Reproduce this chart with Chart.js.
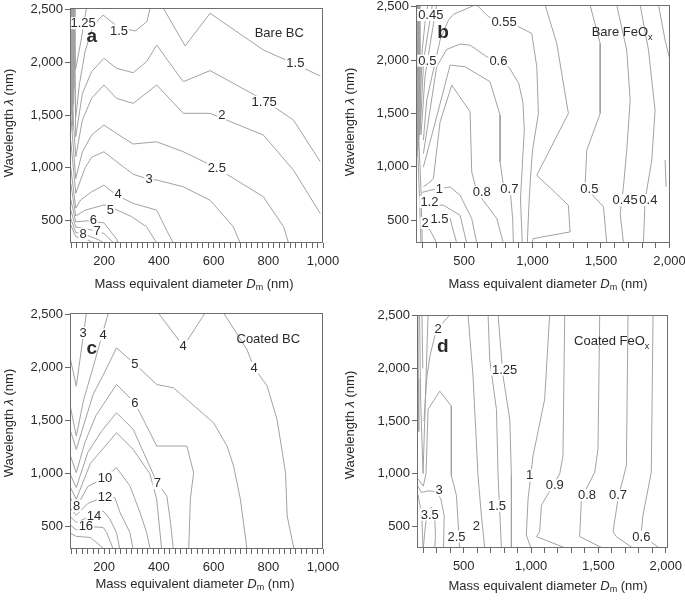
<!DOCTYPE html>
<html>
<head>
<meta charset="utf-8">
<script src="https://cdn.jsdelivr.net/npm/chart.js@4.4.1/dist/chart.umd.min.js"></script>
<style>
  body { margin:0; background:#fff; width:685px; height:600px; position:relative; overflow:hidden;
         font-family:"Liberation Sans", Arial, sans-serif; color:#2a2a2a; }
  .panel { position:absolute; }
  .xt, .yt { position:absolute; font-size:13px; white-space:nowrap; }
  .xt { transform:translate(-50%,-50%); }
  .yt { transform:translate(-50%,-50%) rotate(-90deg); }
  sub { font-size:9px; vertical-align:-2px; line-height:0; }
</style>
</head>
<body>
<div class="panel" style="left:0;top:0"><canvas id="cA" width="340" height="300"></canvas></div>
<div class="panel" style="left:340px;top:0"><canvas id="cB" width="345" height="300"></canvas></div>
<div class="panel" style="left:0;top:300px"><canvas id="cC" width="340" height="300"></canvas></div>
<div class="panel" style="left:340px;top:300px"><canvas id="cD" width="345" height="300"></canvas></div>

<div class="xt" style="left:194px;top:283px">Mass equivalent diameter <i>D</i><sub>m</sub> (nm)</div>
<div class="xt" style="left:548px;top:283px">Mass equivalent diameter <i>D</i><sub>m</sub> (nm)</div>
<div class="xt" style="left:195px;top:583px">Mass equivalent diameter <i>D</i><sub>m</sub> (nm)</div>
<div class="xt" style="left:548px;top:585px">Mass equivalent diameter <i>D</i><sub>m</sub> (nm)</div>
<div class="yt" style="left:8px;top:123px">Wavelength <i>λ</i> (nm)</div>
<div class="yt" style="left:349px;top:122px">Wavelength <i>λ</i> (nm)</div>
<div class="yt" style="left:8px;top:423px">Wavelength <i>λ</i> (nm)</div>
<div class="yt" style="left:349px;top:425px">Wavelength <i>λ</i> (nm)</div>

<script>
// tick values
const yTicks = [500, 1000, 1500, 2000, 2500];
const xTicksBC = [200, 400, 600, 800, 1000];
const xTicksFe = [500, 1000, 1500, 2000];

// contour lines, [Dm, wavelength]
const bareBCLines = [
  [[80,2512],[81,1500]], [[82,2512],[83,1350]], [[84,2512],[85,1400]], [[86,2512],[87,1600]],
  [[88,2512],[89,1750]], [[90,2512],[91,1850]], [[92,2512],[93,2000]],
  [[86,2512],[95,1926],[115,2200],[135,2512]],
  [[88,2512],[96,1484],[110,1800],[130,2100],[160,2350],[196,2446],[251,2330],[314,2295],[356,2383],[368,2512]],
  [[416,2512],[496,2153],[587,2462],[782,2115],[899,1980],[990,1869]],
  [[90,2512],[96,1295],[120,1700],[154,1910],[199,2036],[245,1942],[306,1900],[355,2005],[392,2162],[489,1815],[587,1920],[785,1640],[892,1453],[990,1058]],
  [[78,1800],[96,1106],[120,1450],[154,1658],[199,1784],[245,1658],[306,1610],[392,1784],[489,1516],[587,1516],[782,1311],[892,979],[990,569]],
  [[78,1500],[96,900],[120,1150],[154,1311],[199,1405],[245,1326],[306,1226],[392,1247],[489,1153],[611,1000],[782,727],[856,443],[874,290]],
  [[78,1250],[96,760],[130,1000],[154,1100],[199,1153],[245,1060],[306,940],[364,892],[392,885],[489,822],[587,695],[672,443],[697,290]],
  [[78,1000],[96,620],[115,700],[154,774],[199,837],[245,743],[306,664],[392,601],[428,411],[453,290]],
  [[78,850],[96,545],[130,600],[199,650],[240,610],[300,540],[355,443],[392,290]],
  [[78,700],[96,490],[140,500],[199,480],[245,330],[252,290]],
  [[78,600],[96,440],[150,415],[199,380],[235,290]],
  [[78,520],[96,390],[130,370],[180,320],[200,290]],
  [[78,460],[96,350],[140,320],[160,290]]
];
const bareBCLabels = [
  ['1.25',123,2368], ['1.5',254,2298], ['1.5',899,1989], ['1.75',785,1626], ['2',630,1500],
  ['2.5',612,996], ['3',364,892], ['4',251,750], ['5',223,601], ['6',160,507], ['7',174,406], ['8',123,374]
];

const bareFeLines = [
  [[156,2516],[158,1100]], [[160,2516],[162,1150]], [[164,2516],[167,1200]],
  [[168,2516],[172,1250]], [[172,2516],[177,1300]], [[176,2516],[182,1350]],
  [[162,1150],[175,700],[185,287]], [[170,1250],[185,800],[195,287]],
  [[178,1500],[195,2100],[215,2350],[235,2516]],
  [[182,1400],[205,2000],[245,2330],[268,2516]],
  [[186,1300],[215,1850],[265,2250],[300,2516]],
  [[203,1250],[227,1625],[325,2188],[386,2375],[422,2428],[580,2516]],
  [[593,2516],[678,2406],[897,2313],[994,2250],[1031,1938],[1043,1500],[1000,1156],[985,900],[972,600],[962,287]],
  [[1092,2516],[1177,2156],[1262,1500],[1031,922],[1262,641],[1274,391],[1005,328],[995,287]],
  [[203,1125],[300,1938],[373,2100],[471,2150],[544,2140],[666,2031],[751,1994],[830,1930],[900,1780],[930,1600],[940,1350],[925,1000],[912,700],[925,287]],
  [[203,1000],[300,1469],[398,1953],[507,1938],[690,1797],[763,1484],[763,1047],[787,828],[836,797],[855,516],[860,287]],
  [[203,813],[252,859],[276,891],[325,1422],[410,1766],[544,1516],[556,953],[593,766],[739,516],[787,287]],
  [[190,760],[252,781],[398,812],[471,734],[556,516],[593,287]],
  [[190,641],[349,641],[471,547],[519,287]],
  [[190,516],[398,516],[446,287]],
  [[190,475],[252,406],[300,287]],
  [[1420,2516],[1494,2156],[1494,1500],[1396,1156],[1384,813],[1518,625],[1542,287]],
  [[1615,2516],[1688,2094],[1713,1625],[1688,1156],[1664,813],[1640,563],[1664,287]],
  [[1786,2516],[1847,2094],[1895,1531],[1871,1063],[1822,688],[1810,287]],
  [[1920,2516],[1968,2188],[2004,2000]],
  [[1968,1063],[1976,813]]
];
const bareFeLabels = [
  ['0.45',257,2422], ['0.5',232,1994], ['0.55',792,2359], ['0.6',751,1994], ['1',320,791],
  ['0.8',629,765], ['0.7',831,791], ['0.5',1415,797], ['0.45',1676,688], ['0.4',1846,688],
  ['1.2',247,672], ['1.5',320,516], ['2',215,475]
];

const coatBCLines = [
  [[75,2100],[98,1826],[135,2516]],
  [[75,1650],[98,1356],[125,1700],[153,1945],[215,2516]],
  [[398,2516],[490,2202],[569,2516]],
  [[637,2516],[722,2171],[748,2000],[796,1826],[832,1512],[863,1011],[869,603],[894,290]],
  [[75,1420],[98,1230],[130,1500],[160,1750],[200,1950],[245,2187],[312,2036],[392,1842],[453,1811],[502,1701],[600,1481],[649,1262],[673,1074],[698,760],[722,290]],
  [[75,1180],[98,1011],[130,1300],[170,1550],[245,1842],[312,1670],[392,1262],[502,1262],[527,1011],[515,760],[509,290]],
  [[75,1000],[98,870],[140,1200],[190,1400],[245,1575],[306,1420],[394,911],[429,792],[441,572],[453,290]],
  [[75,880],[98,760],[150,1100],[200,1250],[245,1387],[306,1230],[367,1000],[392,760],[410,290]],
  [[75,780],[98,680],[140,880],[203,965],[245,1058],[294,886],[331,635],[355,447],[368,290]],
  [[75,680],[98,610],[140,720],[203,786],[239,776],[258,635],[294,447],[306,290]],
  [[75,600],[98,540],[140,590],[196,650],[221,572],[245,447],[257,290]],
  [[75,520],[98,470],[133,504],[196,494],[209,447],[233,290]],
  [[75,440],[98,410],[150,400],[200,290]]
];
const coatBCLabels = [
  ['3',123,2328], ['4',196,2312], ['4',489,2202], ['4',748,1999], ['5',312,2036], ['6',312,1670],
  ['10',203,965], ['7',394,911], ['12',203,786], ['8',99,697], ['14',163,603], ['16',133,504]
];

const coatFeLines = [
  [[160,2507],[163,1900],[166,1400]],
  [[172,2507],[180,1700],[198,1000],[215,1700],[235,2507]],
  [[190,2507],[196,2000]],
  [[205,1500],[225,1900],[248,2113],[297,2365],[396,2507]],
  [[160,950],[200,880],[220,1000],[235,1610],[322,1783],[408,1642],[408,981],[446,792],[470,290]],
  [[160,880],[185,820],[240,835],[290,830],[330,760],[355,600],[350,290]],
  [[200,290],[215,500],[230,640],[260,680],[285,600],[290,400],[285,290]],
  [[160,800],[175,700],[190,550],[198,290]],
  [[532,2507],[569,1925],[594,1296],[606,981],[631,604],[656,290]],
  [[681,2507],[693,2082],[743,1610],[755,981],[780,290]],
  [[755,2507],[792,1925],[842,1516],[854,981],[854,290]],
  [[1138,2507],[1101,1705],[1015,1170],[978,762],[965,415],[1000,290]],
  [[1250,2507],[1237,1170],[1213,998],[1077,698],[1064,447],[1040,400],[1260,290]],
  [[1510,2507],[1497,1233],[1473,1013],[1374,762],[1361,400],[1534,290]],
  [[1720,2507],[1708,1076],[1646,762],[1609,447],[1633,400],[1757,290]],
  [[1906,2507],[1893,1013],[1831,604],[1819,447],[1835,400],[1955,290]]
];
const coatFeLabels = [
  ['2',309,2372], ['1.25',804,1988], ['1',990,982], ['0.9',1176,887], ['0.8',1415,793], ['0.7',1646,793],
  ['1.5',747,693], ['3',317,840], ['3.5',248,611], ['2',594,504], ['2.5',446,400], ['0.6',1819,400]
];

const FONT = '"Liberation Sans", Arial, sans-serif';
const LINE = '#a2a2a2';
const INK = '#2a2a2a';

const decor = {
  id: 'decor',
  afterDatasetsDraw(chart, args, o) {
    const ctx = chart.ctx, a = chart.chartArea;
    const sx = chart.scales.x, sy = chart.scales.y;
    ctx.save();
    ctx.font = '13px ' + FONT;
    ctx.textAlign = 'center';
    ctx.textBaseline = 'middle';
    o.labels.forEach(l => {
      const px = sx.getPixelForValue(l[1]), py = sy.getPixelForValue(l[2]);
      const w = ctx.measureText(l[0]).width;
      ctx.fillStyle = '#fff';
      ctx.fillRect(px - w / 2 - 1, py - 6, w + 2, 12);
      ctx.fillStyle = INK;
      ctx.fillText(l[0], px, py + 0.5);
    });

    // sample name, with a subscript when there is one
    const nx = sx.getPixelForValue(o.name[1]), ny = sy.getPixelForValue(o.name[2]);
    ctx.font = '13px ' + FONT;
    const w1 = ctx.measureText(o.name[0]).width;
    ctx.font = '9px ' + FONT;
    const w2 = o.sub ? ctx.measureText(o.sub).width : 0;
    ctx.textAlign = 'left';
    ctx.fillStyle = INK;
    ctx.font = '13px ' + FONT;
    ctx.fillText(o.name[0], nx - (w1 + w2) / 2, ny);
    if (o.sub) {
      ctx.font = '9px ' + FONT;
      ctx.fillText(o.sub, nx - (w1 + w2) / 2 + w1, ny + 5);
    }

    ctx.textAlign = 'center';
    ctx.font = 'bold 19px ' + FONT;
    ctx.fillText(o.letter[0], sx.getPixelForValue(o.letter[1]), sy.getPixelForValue(o.letter[2]));

    ctx.strokeStyle = '#6e6e6e';
    ctx.lineWidth = 1;
    ctx.strokeRect(Math.round(a.left) + 0.5, Math.round(a.top) + 0.5,
                   Math.round(a.right - a.left) - 1, Math.round(a.bottom - a.top) - 1);
    ctx.restore();
  }
};

function makeChart(id, lines, labels, p) {
  const datasets = lines.map(seg => ({
    data: seg.map(pt => ({ x: pt[0], y: pt[1] })),
    showLine: true,
    borderColor: LINE,
    borderWidth: 1,
    pointRadius: 0,
    pointHoverRadius: 0,
    tension: 0
  }));
  const tickFont = { size: 13, family: FONT };
  return new Chart(document.getElementById(id), {
    type: 'scatter',
    data: { datasets: datasets },
    options: {
      responsive: false,
      animation: false,
      events: [],
      layout: { padding: { left: 0, right: p.padR, top: p.padT, bottom: 0 } },
      plugins: {
        legend: { display: false },
        tooltip: { enabled: false },
        decor: { labels: labels, letter: p.letter, name: p.name, sub: p.sub }
      },
      scales: {
        x: {
          type: 'linear', min: p.xMin, max: p.xMax,
          afterBuildTicks: s => {
            const t = [];
            for (let v = p.minorStart; v <= p.xMax; v += p.minorStep) t.push({ value: v });
            s.ticks = t;
          },
          afterFit: s => { s.height = p.xH; s.paddingLeft = 0; s.paddingRight = 0; },
          ticks: {
            autoSkip: false, maxRotation: 0, padding: 6, color: INK, font: tickFont,
            callback: v => p.major.includes(v) ? v.toLocaleString('en-US') : ''
          },
          grid: { drawOnChartArea: false, tickLength: 5, color: '#666' },
          border: { display: false }
        },
        y: {
          type: 'linear', min: p.yMin, max: p.yMax,
          afterBuildTicks: s => { s.ticks = yTicks.map(v => ({ value: v })); },
          afterFit: s => { s.width = p.yW; s.paddingTop = 0; s.paddingBottom = 0; },
          ticks: {
            padding: 2, color: INK, font: tickFont,
            callback: v => v.toLocaleString('en-US')
          },
          grid: { drawOnChartArea: false, tickLength: 5, color: '#666' },
          border: { display: false }
        }
      }
    },
    plugins: [decor]
  });
}

makeChart('cA', bareBCLines, bareBCLabels, {
  yW: 70, padR: 17, padT: 8, xH: 57, xMin: 75, xMax: 1000, yMin: 290, yMax: 2512,
  minorStart: 80, minorStep: 20, major: xTicksBC,
  letter: ['a', 155, 2240], name: ['Bare BC', 840, 2276], sub: ''
});
makeChart('cB', bareFeLines, bareFeLabels, {
  yW: 76, padR: 15, padT: 5, xH: 57, xMin: 149, xMax: 2004, yMin: 287, yMax: 2516,
  minorStart: 200, minorStep: 100, major: xTicksFe,
  letter: ['b', 347, 2253], name: ['Bare FeO', 1654, 2262], sub: 'x'
});
makeChart('cC', coatBCLines, coatBCLabels, {
  yW: 70, padR: 17, padT: 13, xH: 51, xMin: 75, xMax: 1000, yMin: 291, yMax: 2516,
  minorStart: 80, minorStep: 20, major: xTicksBC,
  letter: ['c', 155, 2180], name: ['Coated BC', 800, 2265], sub: ''
});
makeChart('cD', coatFeLines, coatFeLabels, {
  yW: 77, padR: 17, padT: 15, xH: 52, xMin: 153, xMax: 2017, yMin: 292, yMax: 2507,
  minorStart: 200, minorStep: 100, major: xTicksFe,
  letter: ['d', 344, 2205], name: ['Coated FeO', 1599, 2252], sub: 'x'
});
</script>
</body>
</html>
